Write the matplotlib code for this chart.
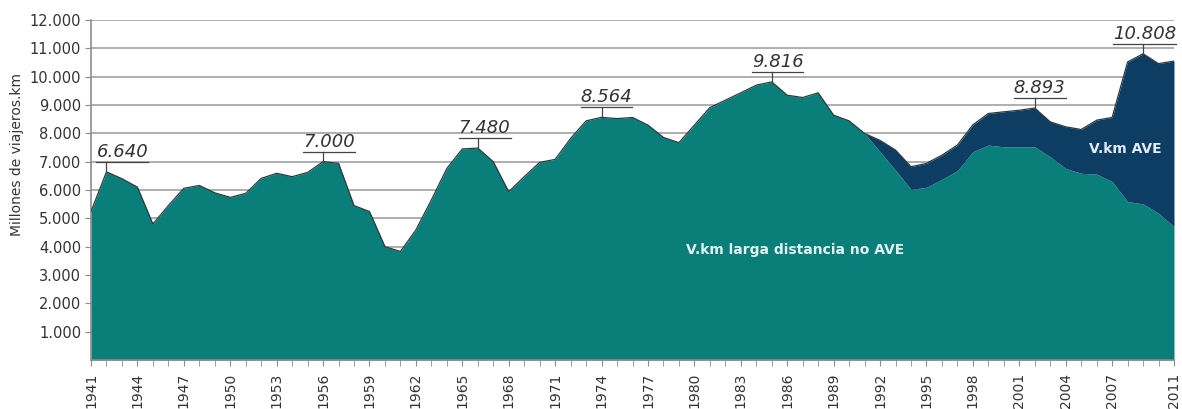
import matplotlib
matplotlib.use("Agg")
import matplotlib.pyplot as plt
from matplotlib.lines import Line2D
from matplotlib.transforms import IdentityTransform
import numpy as np

# Millones de viajeros.km, larga distancia, 1941-2011
years = list(range(1941, 2012))
no_ave = [5240, 6640, 6400, 6100, 4800, 5450, 6060, 6160, 5900, 5740,
          5880, 6410, 6590, 6470, 6620, 7000, 6940, 5450, 5240, 4000,
          3830, 4590, 5650, 6760, 7450, 7480, 7000, 5940, 6470, 6975,
          7080, 7820, 8440, 8564, 8520, 8560, 8290, 7855, 7670, 8290,
          8910, 9170, 9430, 9700, 9816, 9345, 9265, 9430, 8640, 8440,
          7995, 7350, 6700, 6020, 6095, 6375, 6680, 7350, 7585, 7525,
          7525, 7525, 7170, 6760, 6590, 6560, 6300, 5590, 5510, 5180,
          4710]
# AVE from 1992 on (0 before)
ave_years = list(range(1992, 2012))
ave_vals = [400, 710, 800, 845, 855, 905, 950, 1115, 1235, 1290,
            1368, 1235, 1470, 1545, 1905, 2260, 4930, 5298, 5280, 5840]

tick_years = list(range(1941, 2008, 3)) + [2011]
peak_years = [1942, 1956, 1966, 1974, 1985, 2002, 2009]
peak_dx = [-10, -20, -19, -21, -20, -21, -30]  # label offset, px

teal = "#0a7f7a"
navy = "#0e3d63"
grey = "#8c8c8c"

x = np.array(years)
base = np.array(no_ave, dtype=float)
ave = np.zeros(len(years))
for yr, v in zip(ave_years, ave_vals):
    ave[years.index(yr)] = v
total = base + ave

fig = plt.figure(figsize=(11.82, 4.09), dpi=100)
ax = fig.add_axes([91/1182, 1 - 360/409, 1083/1182, 340/409])

ax.fill_between(x, 0, base, color=teal, lw=0, zorder=2)
ax.fill_between(x, base, total, where=x >= 1991, color=navy, lw=0, zorder=2)
ax.plot(x, total, color="#2b3a40", lw=0.9, zorder=3)

ax.set_xlim(1941, 2011)
ax.set_ylim(0, 12000)
ax.set_yticks(range(1000, 13000, 1000))
ax.set_yticklabels([f"{v:,}".replace(",", ".") for v in range(1000, 13000, 1000)])
ax.set_xticks(tick_years)
ax.set_xticks(years, minor=True)
ax.tick_params(axis="x", which="both", rotation=90, length=4, color=grey,
               labelsize=10, labelcolor="#333333", pad=5)
ax.tick_params(axis="y", length=4, color=grey, labelsize=10.5,
               labelcolor="#333333", pad=3)
ax.yaxis.grid(True, color="#a8a8a8", lw=1.3, zorder=0)
ax.set_axisbelow(True)
for s in ["top", "right"]:
    ax.spines[s].set_visible(False)
for s in ["left", "bottom"]:
    ax.spines[s].set_color(grey)
    ax.spines[s].set_linewidth(1.2)

fig.text(17/1182, 1 - 155/409, "Millones de viajeros.km", rotation=90,
         ha="center", va="center", fontsize=10, color="#333333")

ax.text(1986.5, 3890, "V.km larga distancia no AVE", color="#e2f2ef",
        fontsize=10, fontweight="bold", ha="center", va="center", zorder=4)
ax.text(2007.85, 7440, "V.km AVE", color="#e2ecf4",
        fontsize=10, fontweight="bold", ha="center", va="center", zorder=4)

# peak labels: italic, underlined, with a short leader line
fig.canvas.draw()
r = fig.canvas.get_renderer()
for yr, dx in zip(peak_years, peak_dx):
    v = total[years.index(yr)]
    px, py = ax.transData.transform((yr, v))
    uy = py + 10
    lab = f"{int(v):,}".replace(",", ".")
    t = fig.text(px + dx, uy + 1, lab, transform=IdentityTransform(),
                 fontsize=13, style="italic", color="#333333",
                 ha="left", va="bottom")
    bb = t.get_window_extent(r)
    fig.add_artist(Line2D([bb.x0, bb.x1], [uy, uy], color="#444444", lw=0.9,
                          transform=IdentityTransform()))
    fig.add_artist(Line2D([px, px], [py, uy], color="#444444", lw=0.9,
                          transform=IdentityTransform()))

fig.savefig("out.png", dpi=100)
